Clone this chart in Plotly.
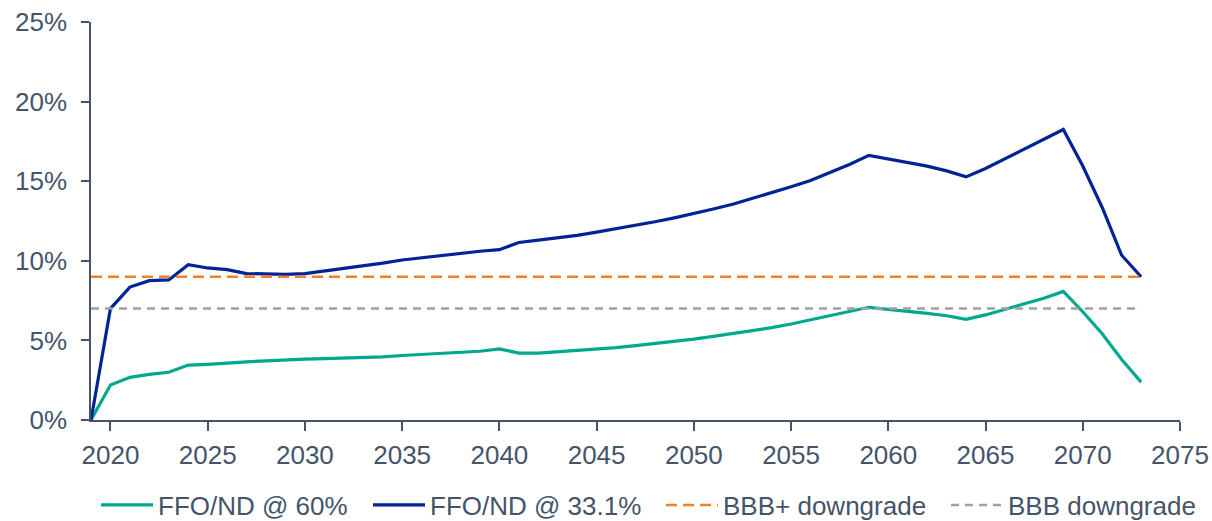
import plotly.graph_objects as go

years = list(range(2019, 2074))

ffo_60 = [0.0, 2.2, 2.68, 2.87, 3.0, 3.45, 3.5, 3.55, 3.65, 3.72, 3.78, 3.82, 3.85, 3.88,
          3.92, 3.96, 4.05, 4.12, 4.2, 4.27, 4.32, 4.47, 4.2, 4.2, 4.28, 4.36, 4.45, 4.55,
          4.67, 4.8, 4.93, 5.08, 5.25, 5.42, 5.6, 5.8, 6.03, 6.28, 6.55, 6.82, 7.08, 6.95,
          6.85, 6.7, 6.55, 6.32, 6.6, 6.95, 7.3, 7.65, 8.08, 6.8, 5.42, 3.8, 2.38]

ffo_331 = [0.0, 7.0, 8.35, 8.75, 8.8, 9.75, 9.55, 9.45, 9.2, 9.15, 9.15, 9.2, 9.35, 9.5,
           9.7, 9.85, 10.05, 10.2, 10.35, 10.5, 10.6, 10.7, 11.15, 11.3, 11.45, 11.6, 11.8,
           12.0, 12.2, 12.45, 12.7, 12.95, 13.25, 13.55, 13.9, 14.25, 14.65, 15.05, 15.55,
           16.05, 16.62, 16.4, 16.2, 15.95, 15.65, 15.27, 15.8, 16.4, 17.05, 17.65, 18.25,
           15.95, 13.35, 10.35, 9.0]

bbb_plus = [9.0] * len(years)
bbb = [7.0] * len(years)

axis_col = "#44546A"
font_col = "#44546A"

fig = go.Figure()
fig.add_trace(go.Scatter(x=years, y=ffo_60, mode="lines", name="FFO/ND @ 60%",
                         line=dict(color="#00A88F", width=3.2), legend="legend"))
fig.add_trace(go.Scatter(x=years, y=ffo_331, mode="lines", name="FFO/ND @ 33.1%",
                         line=dict(color="#002395", width=3.2), legend="legend2"))
fig.add_trace(go.Scatter(x=years, y=bbb_plus, mode="lines", name="BBB+ downgrade",
                         line=dict(color="#F58025", width=2.5, dash="11px,6px"), legend="legend3"))
fig.add_trace(go.Scatter(x=years, y=bbb, mode="lines", name="BBB downgrade",
                         line=dict(color="#A0A0A0", width=2.5, dash="8px,6px"), legend="legend4"))


def leg(px):
    return dict(orientation="h", x=px / 1212, xanchor="left", xref="container",
                y=-0.2136, yanchor="middle", yref="paper", bgcolor="rgba(0,0,0,0)",
                font=dict(size=26, color=font_col), itemwidth=52)


fig.update_layout(
    width=1212, height=521,
    margin=dict(l=91, r=32, t=22, b=101, autoexpand=False),
    paper_bgcolor="white", plot_bgcolor="white",
    font=dict(family="Liberation Sans, Arial, sans-serif", size=26, color=font_col),
    showlegend=True,
    legend=leg(96), legend2=leg(368), legend3=leg(661), legend4=leg(946),
    xaxis=dict(range=[2019, 2075], tickmode="array", tickvals=list(range(2020, 2080, 5)),
               showgrid=False, zeroline=False, showline=True, linecolor=axis_col, linewidth=1.5,
               ticks="outside", ticklen=9, tickcolor=axis_col, tickwidth=1.5,
               automargin=False, ticklabelstandoff=2,
               tickfont=dict(size=26, color=font_col)),
    yaxis=dict(range=[0, 25], tickmode="array", tickvals=[0, 5, 10, 15, 20, 25],
               ticktext=["0%", "5%", "10%", "15%", "20%", "25%"],
               showgrid=False, zeroline=False, showline=True, linecolor=axis_col, linewidth=1.5,
               ticks="outside", ticklen=8, tickcolor=axis_col, tickwidth=1.5,
               automargin=False, ticklabelstandoff=9,
               tickfont=dict(size=26, color=font_col)),
)

fig.write_html("out.html")
